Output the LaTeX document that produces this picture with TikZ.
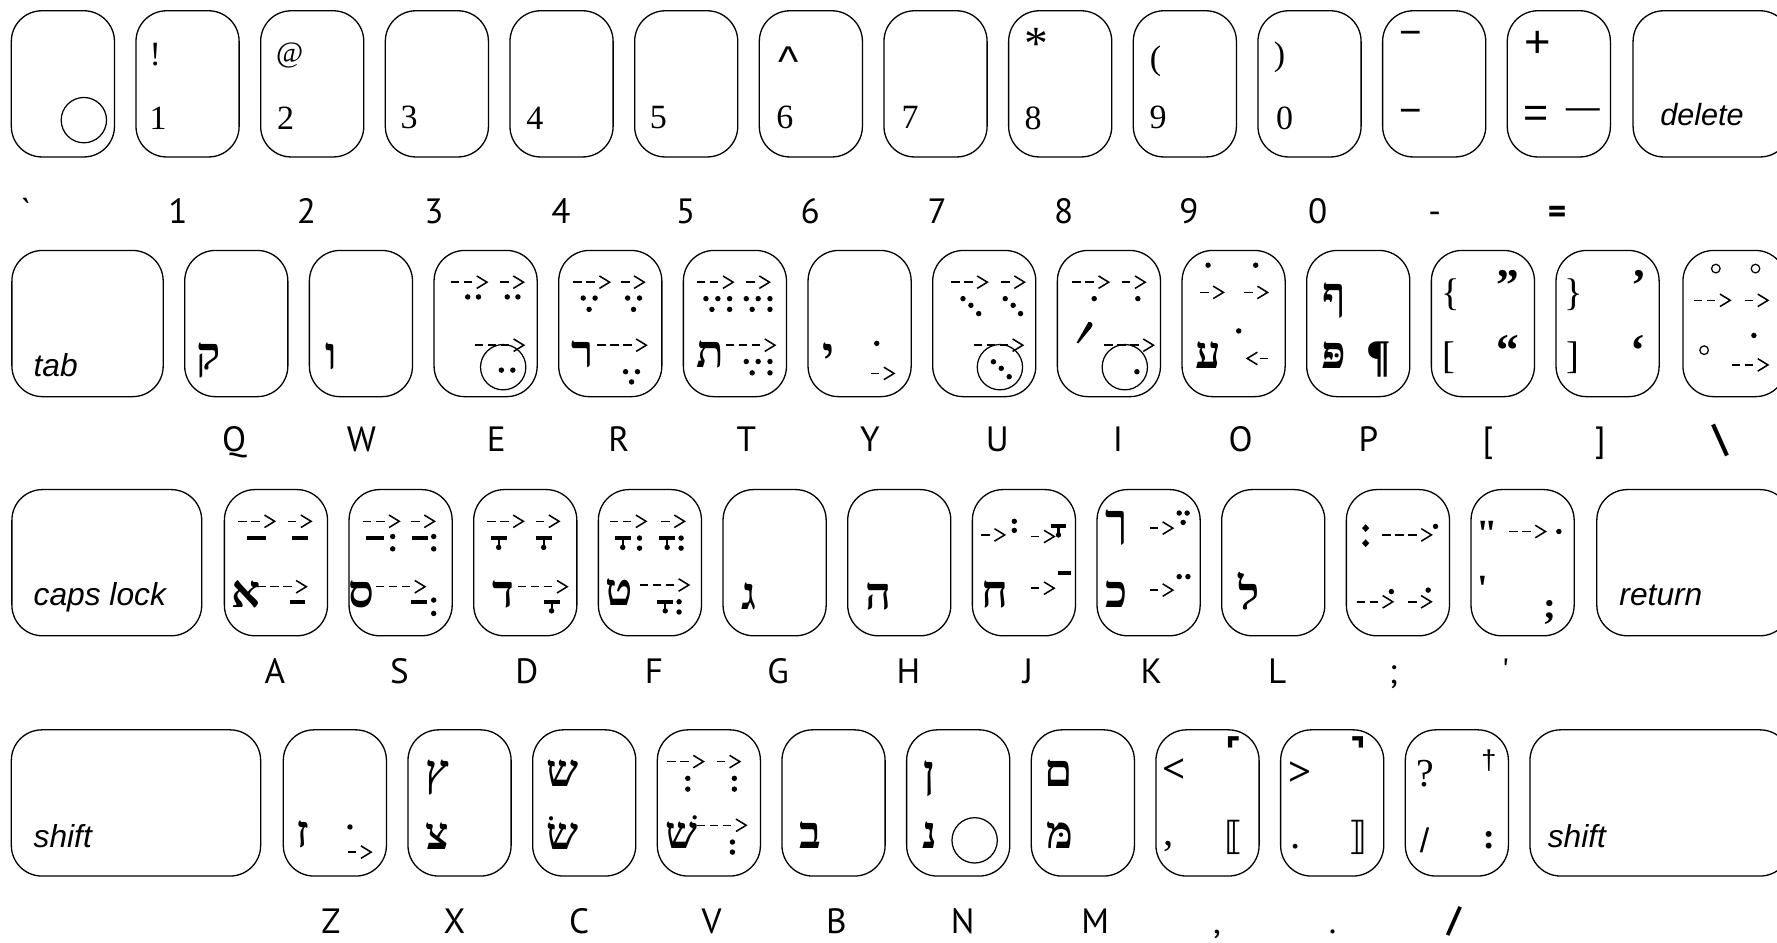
\documentclass[tikz,border=0pt]{standalone}
\usepackage{fontspec}
\setmainfont{Liberation Serif}
\newfontfamily\labf{PT Sans}
\newfontfamily\sansf{Liberation Sans}
\newfontfamily\hebf[Script=Hebrew]{Liberation Serif}
\newfontfamily\dvf{DejaVu Sans}
\TeXXeTstate=1
\newcommand\fsz[1]{\fontsize{#1}{#1}\selectfont}
\tikzset{
 keyshape/.style={draw, line width=1.15pt, rounded corners=27pt},
 arw/.style={line width=1.35pt},
 txt/.style={inner sep=0pt, outer sep=0pt},
 lab/.style={txt, anchor=base, font=\labf\fsz{31}},
 labb/.style={txt, anchor=base, font=\labf\bfseries\fsz{34}},
 ser/.style={txt, font=\fsz{30}},
 sans/.style={txt, font=\sansf\fsz{38}},
 heb/.style={txt, anchor=base, font=\hebf\bfseries\fsz{40}},
 kw/.style={txt, anchor=base west, font=\sansf\itshape\fsz{28}},
}
\newcommand\karr[3]{%
 \foreach \k in {1,...,#3}{\draw[arw] ({#1+(\k-1)*11.5},#2) -- ++(7.5,0);}%
 \draw[arw] ({#1+#3*11.5},{#2-5.5}) -- ({#1+#3*11.5+9},#2) -- ({#1+#3*11.5},{#2+5.5});}
\newcommand\klarr[2]{%
 \draw[arw] ({#1+9},{#2-5.5}) -- (#1,#2) -- ({#1+9},{#2+5.5});
 \draw[arw] ({#1+11},#2) -- ++(7.5,0);}
\newcommand\kdot[2]{\fill (#1,#2) circle (2.4pt);}
\newcommand\kring[2]{\draw[line width=1.1pt] (#1,#2) circle (3.8pt);}
\newcommand\kbar[3]{\fill ({#1-#3/2},{#2-1.9}) rectangle ({#1+#3/2},{#2+1.9});}
\newcommand\kqam[2]{\kbar{#1}{#2}{14}\draw[line width=1.8pt] (#1,#2) -- ++(0,7);\fill (#1,{#2+8}) circle (2.4pt);}
\newcommand\kdia[2]{\fill (#1,{#2-3.4}) -- ({#1+3.2},#2) -- (#1,{#2+3.4}) -- ({#1-3.2},#2) -- cycle;}
\begin{document}
\begin{tikzpicture}[x=1pt,y=-1pt]
\fill[white] (0,0) rectangle (1568,832);
\useasboundingbox (0,0) rectangle (1568,832);
\clip (0,0) rectangle (1568,832);
% ---------------- keys
\foreach \i in {0,...,12} \draw[keyshape] ({10+110*\i},9.5) rectangle ++(91,129);
\draw[keyshape] (1441,9.5) rectangle (1580,138.5);
\draw[keyshape] (10.5,221) rectangle (144,350);
\foreach \i in {0,...,11} \draw[keyshape] ({163+110*\i},221) rectangle ++(91,129);
\draw[keyshape] (1485,221) rectangle (1576,350);
\draw[keyshape] (10.5,432) rectangle (178,561);
\foreach \i in {0,...,10} \draw[keyshape] ({198+110*\i},432) rectangle ++(91,129);
\draw[keyshape] (1409,432) rectangle (1580,561);
\draw[keyshape] (10,644) rectangle (230,773);
\foreach \i in {0,...,9} \draw[keyshape] ({250+110*\i},644) rectangle ++(91,129);
\draw[keyshape] (1350,644) rectangle (1580,773);
% ---------------- row 1
\draw[line width=1.1pt] (74,106) circle (20pt);
\node[ser] at (137,48) {!};
\node[ser] at (139.6,104) {1};
\node[txt,font=\fsz{26}] at (255.6,49) {@};
\node[ser] at (252,104) {2};
\node[ser] at (361,104) {3};
\node[ser] at (472,104) {4};
\node[ser] at (581,104) {5};
\node[sans] at (696,54) {\textasciicircum};
\node[ser] at (692.5,104) {6};
\node[ser] at (803,104) {7};
\node[txt,font=\fsz{42}] at (914.6,39) {*};
\node[ser] at (911.5,104) {8};
\node[ser] at (1019.6,53.7) {(};
\node[ser] at (1022,104) {9};
\node[ser] at (1129,50.8) {)};
\node[ser] at (1133.6,104) {0};
\node[txt,font=\sansf\fsz{34}] at (1245,34) {−};
\node[txt,font=\sansf\fsz{34}] at (1245,102.8) {−};
\node[txt,font=\sansf\fsz{40}] at (1357,39) {+};
\node[txt,font=\sansf\fsz{38}] at (1355,103) {=};
\node[txt,font=\sansf\fsz{30}] at (1396.6,100) {—};
\node[kw,font=\sansf\itshape\fsz{27}] at (1465,111) {delete};
% labels row 1
\node[lab] at (22.7,197) {\textasciigrave};
\node[lab] at (157,197) {1};
\node[lab] at (270.5,197) {2};
\node[lab] at (383,197) {3};
\node[lab] at (495,197) {4};
\node[lab] at (605,197) {5};
\node[lab] at (715,197) {6};
\node[lab] at (827,197) {7};
\node[lab] at (938.5,197) {8};
\node[lab] at (1049,197) {9};
\node[lab] at (1162.8,197) {0};
\node[lab] at (1266,197) {-};
\node[labb,font=\labf\bfseries\fsz{31}] at (1374,197) {=};
% ---------------- row 2
\node[kw] at (29.7,332) {tab};
\node[heb] at (184,326) {ק};
\node[heb] at (292,326) {ו};
% E
\karr{397.7}{249}{2}\kdot{412.7}{262}\kdot{422.2}{262}
\karr{441.4}{249}{1}\kdot{447.6}{262}\kdot{457}{262}
\karr{418.7}{304.6}{3}
\draw[line width=1.1pt] (444,324) circle (20pt);
\kdot{442.4}{326.6}\kdot{452.5}{326.6}
% R
\karr{505.9}{249}{2}\kdot{514.6}{263}\kdot{525.1}{263}\kdot{519.8}{273}
\karr{548}{249}{1}\kdot{553.8}{263}\kdot{564.3}{263}\kdot{559}{273}
\node[heb] at (514,324) {ר};
\karr{526.8}{304.6}{3}\kdot{552}{328}\kdot{562.5}{328}\kdot{557.3}{337}
% T
\karr{614.9}{249}{2}
\kdot{622.9}{263.5}\kdot{633.4}{263.5}\kdot{643.8}{263.5}\kdot{628.2}{273}\kdot{643.8}{273}
\karr{658.5}{249}{1}
\kdot{658.5}{263.5}\kdot{669}{263.5}\kdot{679.4}{263.5}\kdot{663.7}{273}\kdot{679.4}{273}
\node[heb] at (627,324) {ת};
\karr{640.3}{304.6}{3}
\kdot{658.5}{319}\kdot{669}{319}\kdot{679.4}{319}\kdot{663.7}{329}\kdot{679.4}{329}
% Y
\node[heb] at (731,326) {י};
\kdot{773.6}{303}
\karr{768.4}{329.5}{1}
% U
\karr{839.2}{249}{2}\kdot{849.7}{263.5}\kdot{856.7}{269.4}\kdot{863.6}{276.7}
\karr{883.5}{249}{1}\kdot{887}{263.5}\kdot{894}{269.4}\kdot{900.5}{276.7}
\karr{859}{304.6}{3}
\draw[line width=1.1pt] (882.3,324) circle (20pt);
\kdot{876.6}{319.2}\kdot{883.5}{325}\kdot{890.5}{332.4}
% I
\karr{946.3}{249}{2}\kdot{965.5}{263.5}
\karr{990}{249}{1}\kdot{1004}{263.5}
\fill (960.5,284) .. controls (964.5,284) and (964.5,287) .. (963,289) -- (951.5,303) -- (950,302.3) -- cycle;
\karr{974.3}{304.6}{3}
\draw[line width=1.1pt] (992.5,324) circle (20pt);
\kdot{1003.2}{328}
% O
\kdot{1066}{234}\kdot{1108}{234}
\karr{1059}{258}{1}\karr{1098}{258}{1}
\node[heb] at (1066,325) {ע};
\kdot{1093}{292}
\klarr{1100.5}{316.3}
% P
\node[heb] at (1177,273) {ף};
\node[heb] at (1177,325) {פּ};
\node[txt,font=\bfseries\fsz{40}] at (1217,317) {¶};
% [ and ]
\node[txt,font=\fsz{34}] at (1280,260) {\{};
\node[txt,font=\bfseries\fsz{40}] at (1330.5,252) {”};
\node[txt,font=\fsz{34}] at (1278.4,316) {[};
\node[txt,font=\bfseries\fsz{40}] at (1330.5,309) {“};
\node[txt,font=\fsz{34}] at (1389,260) {\}};
\node[txt,font=\bfseries\fsz{40}] at (1446,252) {’};
\node[txt,font=\fsz{34}] at (1387.6,316) {]};
\node[txt,font=\bfseries\fsz{40}] at (1445,309) {‘};
% backslash key
\kring{1514}{237}\kring{1549}{237}
\karr{1494.7}{265}{2}\karr{1539.5}{265}{1}
\kring{1503.7}{309}\kdot{1547.6}{296}
\karr{1528}{322}{2}
% labels row 2
\node[lab] at (206.7,398) {Q};
\node[lab] at (319,398) {W};
\node[lab] at (438,398) {E};
\node[lab] at (546,398) {R};
\node[lab] at (658.5,398) {T};
\node[lab] at (767.5,398) {Y};
\node[lab] at (880,398) {U};
\node[lab] at (986.5,398) {I};
\node[lab] at (1094.6,398) {O};
\node[lab] at (1207.5,398) {P};
\node[lab] at (1313,398) {[};
\node[lab] at (1412,398) {]};
\node[labb] at (1518,398) {\textbackslash};
% ---------------- row 3
\node[kw] at (29.7,534) {caps lock};
% A
\karr{210.4}{460}{2}\kbar{226.3}{474.8}{16}
\karr{254}{460}{1}\kbar{265}{474.8}{14}
\node[heb] at (217,536) {א};
\karr{226.8}{517.7}{3}\kbar{262.5}{531}{14}
% S
\karr{320.3}{460}{2}\kbar{331}{474.8}{16}\kdot{346.5}{473.4}\kdot{346.5}{484.3}
\karr{362.9}{460}{1}\kbar{370.7}{474.8}{14}\kdot{382.7}{473.4}\kdot{382.7}{484.3}
\node[heb] at (319,536) {ס};
\karr{331.5}{517.7}{3}\kbar{369.8}{531}{14}\kdot{382.7}{529.5}\kdot{382.7}{541.3}
% D
\karr{429.8}{460}{2}\kqam{440}{475}
\karr{472.8}{460}{1}\kqam{479.7}{475}
\node[heb] at (444,536) {ד};
\karr{457}{517.7}{3}\kqam{486.7}{531}
% F
\karr{538.1}{460}{2}\kqam{549.5}{475}\kdot{564.3}{474.8}\kdot{564.3}{483.7}
\karr{583.5}{460}{1}\kqam{588.7}{475}\kdot{601}{474.8}\kdot{601}{483.7}
\node[heb] at (546,534) {ט};
\karr{564.3}{516.2}{3}\kqam{587}{531}\kdot{599.2}{531}\kdot{599.2}{540}
% G H
\node[heb] at (661,538) {ג};
\node[heb] at (775.4,538) {ה};
% J
\karr{866}{472}{1}\kdot{895}{460}\kdot{895}{468}
\karr{909.7}{473.4}{1}\kqam{934}{464}
\node[heb] at (878.3,536) {ח};
\karr{909.7}{519}{1}\kbar{939.3}{505.9}{11}
% K
\node[heb] at (985.5,473) {ך};
\karr{1014.4}{466}{1}\kdot{1040.5}{452.7}\kdot{1047.5}{452.7}\kdot{1044}{461}
\node[heb] at (985.5,536) {כ};
\karr{1014.4}{520.7}{1}\kdot{1040.5}{508.8}\kdot{1048.2}{508.8}
% L
\node[heb] at (1102,538) {ל};
% ;
\kdia{1205}{466}\kdia{1205}{479.3}
\karr{1219.6}{472}{3}\kdot{1266.7}{464.5}
\karr{1197}{531}{2}\kdot{1227.7}{522}
\karr{1242.4}{531}{1}\kdot{1260.2}{520.7}
% '
\node[txt,font=\bfseries\fsz{34}] at (1312.5,471) {\textquotedbl};
\karr{1331.7}{469}{2}\kdot{1375.5}{469}
\node[txt,font=\bfseries\fsz{34}] at (1308.3,520) {\textquotesingle};
\node[txt,font=\bfseries\fsz{34}] at (1367.4,540) {;};
\node[kw] at (1429,534) {return};
% labels row 3
\node[lab] at (242.5,603) {A};
\node[lab] at (352.4,603) {S};
\node[lab] at (465,603) {D};
\node[lab] at (577,603) {F};
\node[lab] at (686.5,603) {G};
\node[lab] at (801.5,603) {H};
\node[lab] at (907,603) {J};
\node[lab] at (1016,603) {K};
\node[lab] at (1127,603) {L};
\node[lab] at (1229.4,603) {;};
\node[lab] at (1328.4,603) {\textquotesingle};
% ---------------- row 4
\node[kw] at (29.7,747.4) {shift};
% Z
\node[heb] at (267,748) {ז};
\kdot{308.8}{729.7}\karr{307}{751.9}{1}
% X
\node[heb] at (385.6,694) {ץ};
\node[heb] at (385.6,750) {צ};
% C
\node[heb] at (496.4,694) {ש};
\node[heb] at (496.4,750) {שׂ};
% V
\karr{588.7}{672}{2}\kdot{606.9}{686.8}\kdot{606.9}{696.3}
\karr{632.3}{672}{1}\kdot{648}{686.8}\kdot{648}{696.3}
\node[heb] at (601.8,749) {שׁ};
\karr{614.9}{728.2}{3}\kdot{646.3}{743}\kdot{646.3}{751.9}
% B N M
\node[heb] at (715.2,749) {ב};
\node[heb] at (820,695) {ן};
\node[heb] at (820.4,749) {נ};
\draw[line width=1.1pt] (860,741.5) circle (20pt);
\node[heb] at (934,694) {ם};
\node[heb] at (935,749) {מּ};
% , key
\node[txt,font=\bfseries\fsz{36}] at (1036,680) {<};
\node[txt,font=\fsz{36}] at (1031,747) {,};
\node[txt,font=\dvf\bfseries\fsz{30}] at (1088,661) {⌜};
\node[txt,font=\dvf\fsz{34}] at (1089,738.5) {⟦};
% . key
\node[txt,font=\bfseries\fsz{36}] at (1147.4,682.4) {>};
\node[txt,font=\fsz{36}] at (1143.3,747.4) {.};
\node[txt,font=\dvf\bfseries\fsz{30}] at (1198.5,661.8) {⌝};
\node[txt,font=\dvf\fsz{34}] at (1198.5,738.5) {⟧};
% / key
\node[txt,font=\fsz{35}] at (1257.8,682.5) {?};
\node[txt,font=\sansf\fsz{24}] at (1313.8,671) {†};
\node[txt,font=\sansf\fsz{30}] at (1257,741.6) {/};
\node[txt,font=\bfseries\fsz{32}] at (1313.8,741.5) {:};
\node[kw] at (1365.7,747.4) {shift};
% labels row 4
\node[lab] at (292,824) {Z};
\node[lab] at (401,824) {X};
\node[lab] at (511,824) {C};
\node[lab] at (628,824) {V};
\node[lab] at (738,824) {B};
\node[lab] at (849.5,824) {N};
\node[lab] at (966.4,824) {M};
\node[lab] at (1074,824) {,};
\node[lab] at (1175.8,824) {.};
\node[labb,font=\labf\bfseries\fsz{31}] at (1283,822) {/};
\end{tikzpicture}
\end{document}
